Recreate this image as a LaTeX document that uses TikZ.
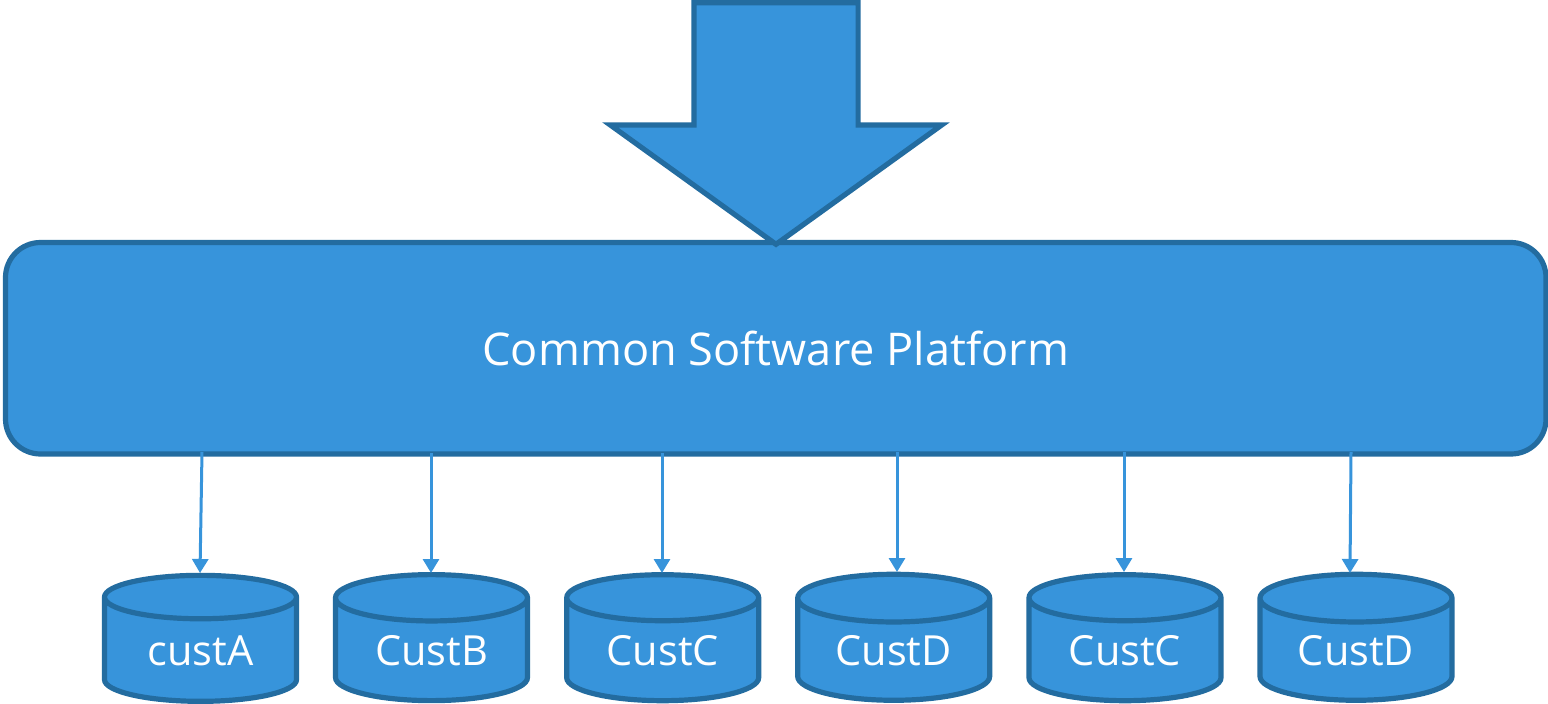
\documentclass[tikz,border=0pt]{standalone}
\usepackage{fontspec}
\setmainfont{Open Sans}
\usetikzlibrary{arrows.meta,shapes.geometric,shapes.arrows}
\definecolor{fillblue}{HTML}{3794DB}
\definecolor{edgeblue}{HTML}{236CA0}
\newcommand{\storelabel}[1]{\raisebox{-2.5pt}{#1}}
\tikzset{
  solidshape/.style={draw=edgeblue,fill=fillblue,line width=5.2pt,text=white,inner sep=0pt},
  platform/.style={solidshape,rectangle,rounded corners=35pt,minimum width=1540.5pt,minimum height=211.5pt,font=\fontsize{45.1}{54}\selectfont},
  bigarrow/.style={solidshape,single arrow,shape border rotate=270,inner sep=79.5pt,minimum width=326pt,minimum height=241.5pt,single arrow head extend=83.5pt,single arrow tip angle=108.5,miter limit=10},
  store/.style={solidshape,cylinder,shape border rotate=90,shape aspect=0.41,minimum width=192pt,minimum height=126pt,font=\fontsize{41.5}{50}\selectfont},
  feed/.style={draw=fillblue,line width=3pt,-{Triangle[width=16pt,length=14pt]}}
}
\begin{document}
\begin{tikzpicture}[x=1pt,y=-1pt]
\useasboundingbox (0,0) rectangle (1548,704);
\node[platform] (plat) at (775.75,348.25) {Common Software Platform};
\node[bigarrow,anchor=tip] (top) at (776,247.5) {};
\node[store] (a) at (200.5,650.5) {\storelabel{custA}};
\node[store] (b) at (431.5,650.5) {\storelabel{CustB}};
\node[store] (c) at (662.7,650.5) {\storelabel{CustC}};
\node[store] (d) at (893.7,650.5) {\storelabel{CustD}};
\node[store] (e) at (1125,650.5) {\storelabel{CustC}};
\node[store] (f) at (1356,650.5) {\storelabel{CustD}};
\coordinate (sa) at (202,452);
\coordinate (sb) at (431,453);
\coordinate (sc) at (662,453);
\coordinate (sd) at (897,452);
\coordinate (se) at (1124,452);
\coordinate (sf) at (1351,452);
\coordinate (ea) at (200,573);
\coordinate (eb) at (431,573);
\coordinate (ec) at (662,573);
\coordinate (ed) at (897,572);
\coordinate (ee) at (1124,572);
\coordinate (ef) at (1350,573);
\draw[feed] (sa) -- (ea);
\draw[feed] (sb) -- (eb);
\draw[feed] (sc) -- (ec);
\draw[feed] (sd) -- (ed);
\draw[feed] (se) -- (ee);
\draw[feed] (sf) -- (ef);
\end{tikzpicture}
\end{document}
